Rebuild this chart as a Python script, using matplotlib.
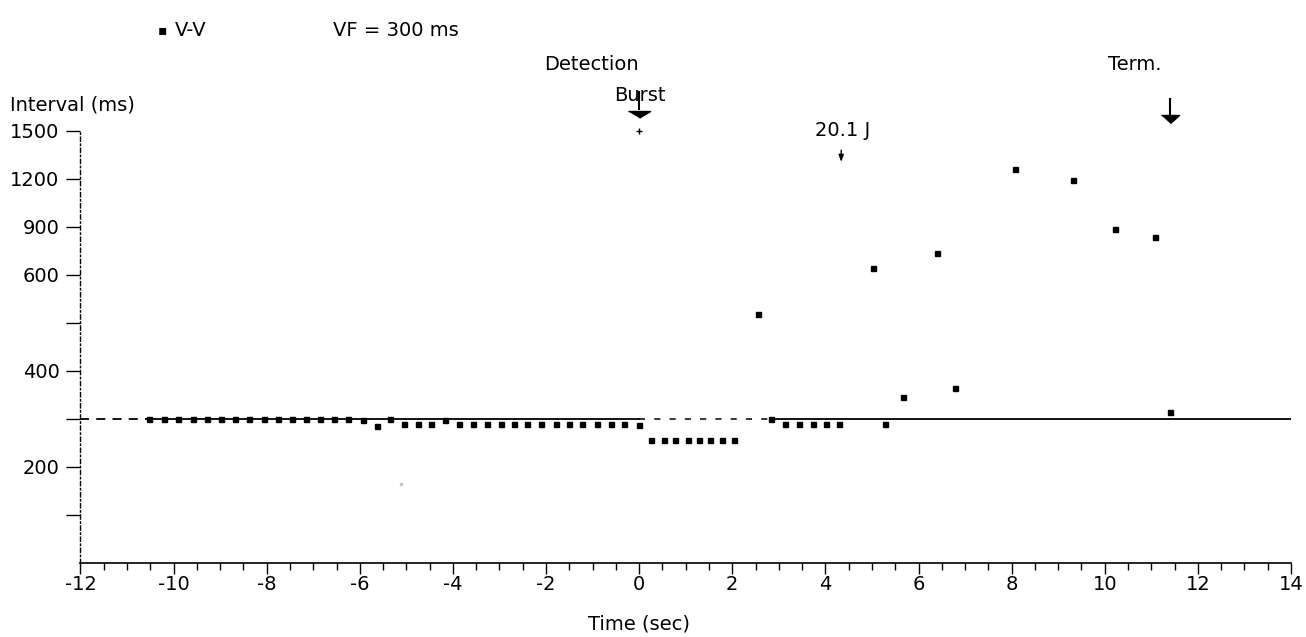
import numpy as np
import matplotlib
matplotlib.use('Agg')
from matplotlib import pyplot as plt
from matplotlib.transforms import blended_transform_factory

plt.rcParams['font.family'] = ['DejaVu Sans']
plt.rcParams['axes.unicode_minus'] = False

vv_time = [-10.52, -10.21, -9.91, -9.59, -9.29, -8.98, -8.67, -8.37, -8.06,
           -7.76, -7.46, -7.16, -6.85, -6.55, -6.25, -5.94, -5.63, -5.35,
           -5.05, -4.74, -4.47, -4.17, -3.87, -3.57, -3.26, -2.96, -2.69,
           -2.40, -2.11, -1.79, -1.51, -1.22, -0.90, -0.61, -0.33, 0.00,
           0.25, 0.53, 0.78, 1.05, 1.28, 1.53, 1.79, 2.03,
           2.56, 2.84, 3.14, 3.43, 3.74, 4.02, 4.30,
           5.02, 5.27, 5.66, 6.40, 6.79, 8.08, 9.32, 10.21, 11.08, 11.41]
vv_interval = [300, 300, 300, 300, 300, 300, 300, 300, 300,
               300, 300, 300, 300, 300, 300, 298, 285, 300,
               290, 290, 290, 298, 290, 290, 290, 290, 290,
               290, 290, 290, 290, 290, 290, 290, 290, 288,
               255, 255, 255, 255, 255, 255, 255, 255,
               519, 300, 290, 290, 290, 290, 290,
               646, 290, 345, 737, 365, 1261, 1192, 890, 834, 315]

# detection mark (clipped at top) and a faint stray point
det_time = [0.0]
det_interval = [1500]
stray_time = [-5.12]
stray_interval = [164]

vf_zone = 300
x_ticks = list(range(-12, 15, 2))
y_ticks = [100, 200, 300, 400, 500, 600, 900, 1200, 1500]
y_tick_labels = ['', '200', '', '400', '', '600', '900', '1200', '1500']

burst_time = 0.0
shock_time = 4.34
shock_label = '20.1 J'
term_time = 11.41

FS = 14


def fwd(y):
    y = np.asarray(y, dtype=float)
    return np.where(y <= 600, y, 600 + (y - 600) / 3.0)


def inv(u):
    u = np.asarray(u, dtype=float)
    return np.where(u <= 600, u, 600 + (u - 600) * 3.0)


fig = plt.figure(figsize=(13.06, 6.37), dpi=100)
ax = fig.add_axes([0.0616, 0.1166, 0.9269, 0.6778])
ax.set_yscale('function', functions=(fwd, inv))
ax.set_xlim(-12, 14)
ax.set_ylim(0, 1500)

# VF zone line (scan leaves parts of it broken)
ax.plot([-12, -10.6], [vf_zone, vf_zone], color='k', lw=1.3, dashes=(5, 4))
ax.plot([-10.6, 0.0], [vf_zone, vf_zone], color='k', lw=1.3)
ax.plot([0.0, 2.8], [vf_zone, vf_zone], color='k', lw=1.1, dashes=(4, 6))
ax.plot([2.8, 14], [vf_zone, vf_zone], color='k', lw=1.3)

ax.plot(vv_time, vv_interval, 's', color='k', ms=3.6, ls='none')
ax.plot(det_time, det_interval, '+', color='k', ms=5, mew=1, clip_on=False)
ax.plot(stray_time, stray_interval, 's', color='#c8c8c8', ms=2)

for s in ['top', 'right']:
    ax.spines[s].set_visible(False)
ax.spines['left'].set_linestyle((0, (3, 2, 1, 2)))
ax.spines['left'].set_linewidth(1.0)
ax.spines['bottom'].set_linewidth(1.2)

ax.set_xticks(x_ticks)
ax.set_xticks(np.arange(-12, 14.01, 0.5), minor=True)
ax.set_yticks(y_ticks)
ax.set_yticklabels(y_tick_labels)
ax.yaxis.set_minor_locator(matplotlib.ticker.NullLocator())
ax.tick_params(axis='x', which='major', length=8, width=1, labelsize=FS, pad=1)
ax.tick_params(axis='x', which='minor', length=5, width=1)
ax.tick_params(axis='y', which='major', length=10, width=1, labelsize=FS, pad=5)

ax.set_xlabel('Time (sec)', fontsize=FS)
ax.xaxis.set_label_coords(0.461, -0.12)

fig.text(10 / 1306, 1 - 105 / 637, 'Interval (ms)', fontsize=FS, ha='left', va='center')

# header legend
fig.text(162 / 1306, 1 - 30 / 637, '\u25aa', fontsize=10, ha='center', va='center')
fig.text(175 / 1306, 1 - 30 / 637, 'V-V', fontsize=FS, ha='left', va='center')
fig.text(333 / 1306, 1 - 30 / 637, 'VF = 300 ms', fontsize=FS, ha='left', va='center')

trans = blended_transform_factory(ax.transData, ax.transAxes)

ax.text(burst_time, 1.153, 'Detection', transform=trans, fontsize=FS, ha='right', va='center')
ax.text(burst_time + 0.02, 1.083, 'Burst', transform=trans, fontsize=FS, ha='center', va='center')
ax.plot([burst_time, burst_time], [1.09, 1.05], transform=trans, color='k', lw=1.5, clip_on=False)
tri = [(-1, 0), (1, 0), (0, -0.6)]
ax.plot([burst_time], [1.046], transform=trans, marker=tri, ms=16, color='k', clip_on=False)

ax.text(shock_time + 0.03, 1.002, shock_label, transform=trans, fontsize=FS, ha='center', va='center')
ax.annotate('', xy=(shock_time, 0.922), xycoords=trans, xytext=(shock_time, 0.962),
            textcoords=trans, arrowprops=dict(arrowstyle='-|>,head_width=0.15,head_length=0.4',
                                              color='k', lw=1))

ax.text(10.65, 1.153, 'Term.', transform=trans, fontsize=FS, ha='center', va='center')
tri_t = [(-1, 0), (1, 0), (0, -0.9)]
ax.plot([term_time, term_time], [1.075, 1.04], transform=trans, color='k', lw=1.5, clip_on=False)
ax.plot([term_time], [1.036], transform=trans, marker=tri_t, ms=13, color='k', clip_on=False)

fig.savefig('out.png', dpi=100)
